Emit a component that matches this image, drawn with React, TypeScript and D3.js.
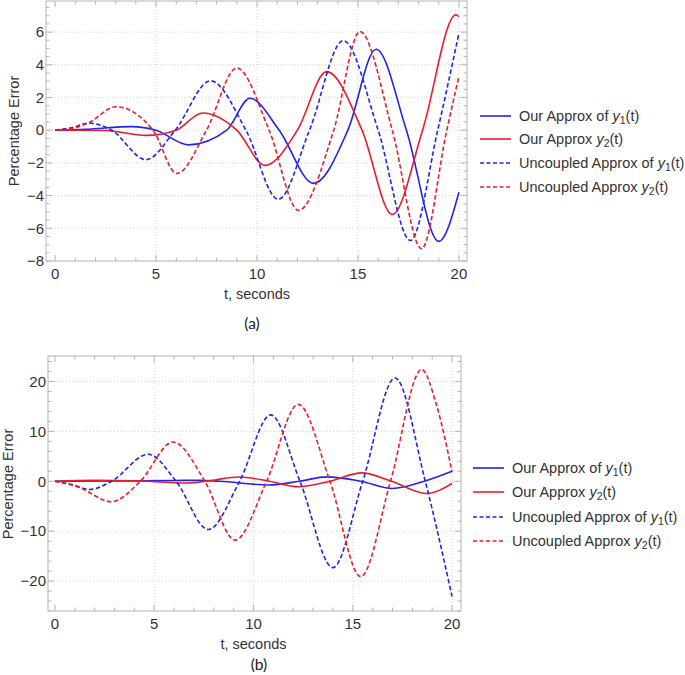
import React from "react";
import * as d3 from "d3";

type Pt = [number, number];

// ---------- Panel (a) data: [t, percentage error] ----------
const aOurY1: Pt[] = [[0, 0], [1.5, 0.05], [3.8, 0.22], [5.0, 0], [6.6, -0.9], [8.5, 0], [9.65, 1.95], [11.1, 0], [12.8, -3.25], [14.5, 0], [15.9, 4.95], [17.4, 0], [19.0, -6.8], [20, -3.8]];
const aOurY2: Pt[] = [[0, 0], [2.5, -0.02], [4.5, -0.32], [6.0, 0], [7.3, 1.05], [9.0, 0], [10.4, -2.15], [12.0, 0], [13.45, 3.58], [15.2, 0], [16.7, -5.15], [18.2, 0], [19.85, 7.05], [20, 6.95]];
const aUncY1: Pt[] = [[0, 0], [0.8, 0.15], [1.7, 0.43], [2.8, 0], [4.5, -1.8], [5.95, 0], [7.7, 3.02], [9.45, 0], [11.05, -4.23], [12.6, 0], [14.27, 5.48], [16.0, 0], [17.6, -6.75], [18.95, 0], [20, 5.93]];
const aUncY2: Pt[] = [[0, 0], [1.0, 0.15], [1.7, 0.48], [3.0, 1.43], [4.85, 0], [6.03, -2.65], [7.5, 0], [9.0, 3.8], [10.6, 0], [12.05, -4.9], [13.8, 0], [15.1, 6.03], [16.7, 0], [18.15, -7.25], [19.4, 0], [20, 3.3]];

// ---------- Panel (b) data ----------
const bOurY1: Pt[] = [[0, 0], [3, 0.05], [6, 0.15], [7.3, 0.2], [8.3, 0], [10.8, -0.75], [12.3, 0], [13.7, 0.87], [15.4, 0], [17.0, -1.45], [18.6, 0], [20, 2.0]];
const bOurY2: Pt[] = [[0, 0], [2, 0.2], [4, 0.1], [5.5, -0.2], [6.7, -0.35], [7.6, 0], [9.3, 0.85], [10.8, 0], [12.25, -1.1], [13.85, 0], [15.45, 1.67], [16.95, 0], [18.7, -2.45], [20, -0.45]];
const bUncY1: Pt[] = [[0, 0], [0.8, -0.6], [1.76, -1.65], [2.85, 0], [4.7, 5.4], [6.1, 0], [7.72, -9.67], [9.3, 0], [10.87, 13.3], [12.34, 0], [14.0, -17.3], [15.5, 0], [17.13, 20.7], [18.65, 0], [20, -23.1]];
const bUncY2: Pt[] = [[0, 0], [1.2, -1.2], [2.85, -4.1], [4.3, 0], [5.95, 7.87], [7.55, 0], [9.07, -11.8], [10.66, 0], [12.25, 15.4], [13.85, 0], [15.4, -19.1], [16.9, 0], [18.47, 22.4], [19.2, 15.5], [20, 1.9]];

const xMajorTicks = [0, 5, 10, 15, 20];
const aYMajorTicks = [-8, -6, -4, -2, 0, 2, 4, 6];
const bYMajorTicks = [-20, -10, 0, 10, 20];

const legendLabels = [
  { pre: "Our Approx of ", sub: "1" },
  { pre: "Our Approx ", sub: "2" },
  { pre: "Uncoupled Approx of ", sub: "1" },
  { pre: "Uncoupled Approx ", sub: "2" },
];

const BLUE = "#2222ee";
const RED = "#ea1c2c";
const FRAME = "#b4b4b4";
const TEXT = "#333";
const FONT = "Arial, 'Liberation Sans', sans-serif";

const fmt = (v: number) => (v < 0 ? "\u2212" + Math.abs(v) : String(v));

interface PanelProps {
  series: Pt[][];
  xDom: [number, number];
  xPix: [number, number];
  yDom: [number, number];
  yPix: [number, number];
  yMajor: number[];
  yMinorStep: number;
  yLabelX: number;
  yLabelY: number;
  xTickY: number;
  xLabelY: number;
  caption: string;
  captionX: number;
  captionY: number;
  legX: number;
  legRows: number[];
}

function Panel(p: PanelProps) {
  const x = d3.scaleLinear().domain(p.xDom).range(p.xPix);
  const y = d3.scaleLinear().domain(p.yDom).range(p.yPix);
  const [L, R] = p.xPix;
  const [B, T] = p.yPix;
  const line = d3
    .line<Pt>()
    .x((d) => x(d[0]))
    .y((d) => y(d[1]))
    .curve(d3.curveMonotoneX);
  const styles = [
    { c: BLUE, dash: undefined },
    { c: RED, dash: undefined },
    { c: BLUE, dash: "4.5,2.5" },
    { c: RED, dash: "4.5,2.5" },
  ];
  const xMinor = d3.range(0, 21, 1).filter((v) => !xMajorTicks.includes(v));
  const yMinorAll = d3.range(
    Math.ceil(p.yDom[0] / p.yMinorStep) * p.yMinorStep,
    p.yDom[1] + 1e-9,
    p.yMinorStep
  );
  const yMinor = yMinorAll.filter((v) => !p.yMajor.some((m) => Math.abs(m - v) < 1e-9));
  const maj = 6;
  const mi = 3.5;
  return (
    <g>
      {xMajorTicks
        .filter((v) => v !== 0)
        .map((v) => (
          <line key={"gx" + v} x1={x(v)} x2={x(v)} y1={T} y2={B} stroke="#c8c8c8" strokeDasharray="1,2" strokeWidth={0.8} />
        ))}
      {p.yMajor
        .filter((v) => y(v) < B - 1 && y(v) > T + 1)
        .map((v) => (
          <line key={"gy" + v} x1={L} x2={R} y1={y(v)} y2={y(v)} stroke="#c8c8c8" strokeDasharray="1,2" strokeWidth={0.8} />
        ))}
      <rect x={L} y={T} width={R - L} height={B - T} fill="none" stroke={FRAME} strokeWidth={1} />
      {xMajorTicks.map((v) => (
        <g key={"tx" + v}>
          <line x1={x(v)} x2={x(v)} y1={B} y2={B - maj} stroke={FRAME} />
          <line x1={x(v)} x2={x(v)} y1={T} y2={T + maj} stroke={FRAME} />
        </g>
      ))}
      {xMinor.map((v) => (
        <g key={"tmx" + v}>
          <line x1={x(v)} x2={x(v)} y1={B} y2={B - mi} stroke={FRAME} />
          <line x1={x(v)} x2={x(v)} y1={T} y2={T + mi} stroke={FRAME} />
        </g>
      ))}
      {p.yMajor.map((v) => (
        <g key={"ty" + v}>
          <line x1={L} x2={L + maj} y1={y(v)} y2={y(v)} stroke={FRAME} />
          <line x1={R} x2={R - maj} y1={y(v)} y2={y(v)} stroke={FRAME} />
        </g>
      ))}
      {yMinor.map((v) => (
        <g key={"tmy" + v}>
          <line x1={L} x2={L + mi} y1={y(v)} y2={y(v)} stroke={FRAME} />
          <line x1={R} x2={R - mi} y1={y(v)} y2={y(v)} stroke={FRAME} />
        </g>
      ))}
      {xMajorTicks.map((v) => (
        <text key={"lx" + v} x={x(v)} y={p.xTickY} textAnchor="middle" fontSize={15} fill={TEXT} fontFamily={FONT}>
          {fmt(v)}
        </text>
      ))}
      {p.yMajor.map((v) => (
        <text key={"ly" + v} x={L - 2} y={y(v) + 5.3} textAnchor="end" fontSize={15} fill={TEXT} fontFamily={FONT}>
          {fmt(v)}
        </text>
      ))}
      <text x={(x(0) + x(20)) / 2} y={p.xLabelY} textAnchor="middle" fontSize={14.5} fill={TEXT} fontFamily={FONT}>
        t, seconds
      </text>
      <text
        transform={`translate(${p.yLabelX},${p.yLabelY}) rotate(-90)`}
        textAnchor="middle"
        fontSize={14.5}
        fill={TEXT}
        fontFamily={FONT}
      >
        Percentage Error
      </text>
      <text x={p.captionX} y={p.captionY} textAnchor="middle" fontSize={15.5} fill="#222" fontFamily="Lato, 'Open Sans', sans-serif">
        {p.caption}
      </text>
      {p.series.map((s, i) => (
        <path
          key={"s" + i}
          d={line(s) || ""}
          fill="none"
          stroke={styles[i].c}
          strokeWidth={1.6}
          strokeDasharray={styles[i].dash}
        />
      ))}
      {legendLabels.map((lab, i) => (
        <g key={"lg" + i}>
          <line
            x1={p.legX}
            x2={p.legX + 31}
            y1={p.legRows[i]}
            y2={p.legRows[i]}
            stroke={styles[i].c}
            strokeWidth={1.6}
            strokeDasharray={styles[i].dash ? "4,2.5" : undefined}
          />
          <text x={p.legX + 39} y={p.legRows[i] + 5} fontSize={14.5} fill={TEXT} fontFamily={FONT}>
            {lab.pre}
            <tspan fontStyle="italic">y</tspan>
            <tspan fontSize={10.5} dy={3}>
              {lab.sub}
            </tspan>
            <tspan dy={-3}>(t)</tspan>
          </text>
        </g>
      ))}
    </g>
  );
}

export default function App() {
  return (
    <svg
      width={685}
      height={675}
      viewBox="0 0 685 675"
      style={{ position: "absolute", left: 0, top: 0, display: "block", background: "#fff" }}
    >
      <rect x={0} y={0} width={685} height={675} fill="#fff" />
      <Panel
        series={[aOurY1, aOurY2, aUncY1, aUncY2]}
        xDom={[-0.45, 20.4]}
        xPix={[46, 467]}
        yDom={[-8, 7.9]}
        yPix={[261, 1]}
        yMajor={aYMajorTicks}
        yMinorStep={0.5}
        yLabelX={19}
        yLabelY={131}
        xTickY={279}
        xLabelY={299}
        caption="(a)"
        captionX={252}
        captionY={329}
        legX={480}
        legRows={[116, 139, 163, 187]}
      />
      <Panel
        series={[bOurY1, bOurY2, bUncY1, bUncY2]}
        xDom={[-0.35, 20.45]}
        xPix={[48, 461]}
        yDom={[-26, 25.1]}
        yPix={[611, 356]}
        yMajor={bYMajorTicks}
        yMinorStep={2}
        yLabelX={13}
        yLabelY={484}
        xTickY={629}
        xLabelY={649}
        caption="(b)"
        captionX={259}
        captionY={670}
        legX={473}
        legRows={[468, 492, 517, 541]}
      />
    </svg>
  );
}
